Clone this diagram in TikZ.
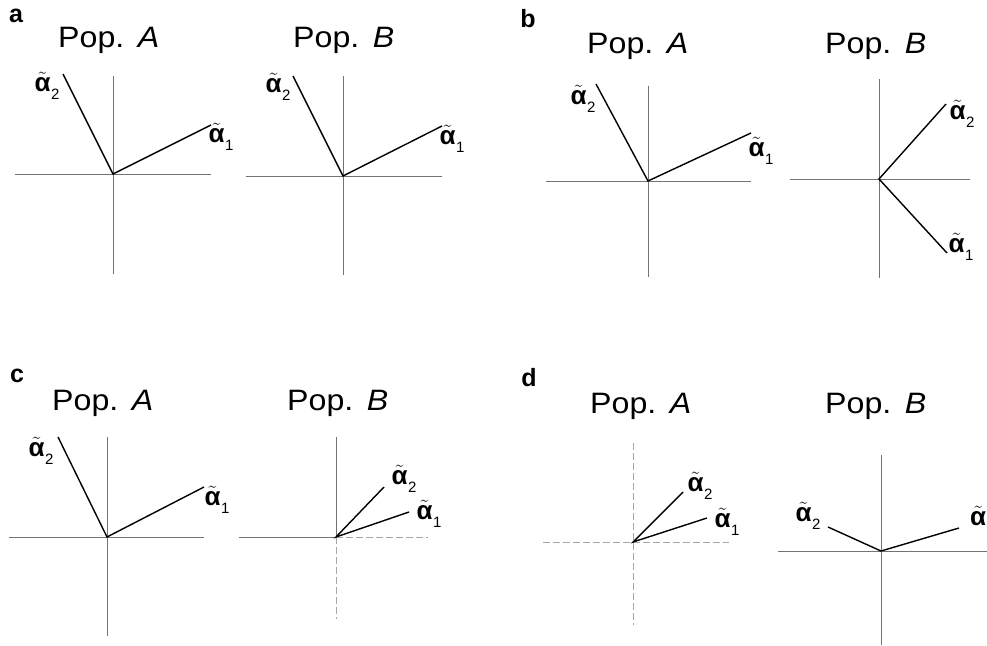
\documentclass[tikz,border=0pt]{standalone}
\usepackage{fontspec}
\setmainfont{Liberation Sans}
\newcommand{\alp}[1]{$\tilde{\mbox{\bfseries α}}$\kern0.5pt\raisebox{-8pt}{\fontsize{15}{15}\selectfont #1}}
\newcommand{\pop}[1]{Pop.\hspace{0.42em}\textit{#1}}
\begin{document}
\begin{tikzpicture}[x=1pt,y=-1pt,
  axis/.style={draw=black!55,line width=0.9pt},
  faintaxis/.style={draw=black!35,line width=0.9pt,dash pattern=on 7pt off 3pt},
  vec/.style={draw=black,line width=1.4pt},
  poplbl/.style={inner sep=0pt,anchor=base west,font=\fontsize{29.5}{29.5}\selectfont,xscale=1.09,transform shape},
  panel/.style={inner sep=0pt,anchor=center,font=\bfseries\fontsize{25}{25}\selectfont},
  alab/.style={inner sep=0pt,anchor=center,font=\fontsize{26}{26}\selectfont}]
\useasboundingbox (0,0) rectangle (987,645);
\clip (0,0) rectangle (987,645);

% ---------------- panel a ----------------
\node[panel] (la) at (16,16) {a};
\node[poplbl] (aAt) at (58,47) {\pop{A}};
\node[poplbl] (aBt) at (293,47) {\pop{B}};
% a, Pop A
\coordinate (aAo) at (113,174);
\coordinate (aAl) at (15,174); \coordinate (aAr) at (211,174);
\coordinate (aAu) at (113,76);  \coordinate (aAd) at (113,274);
\coordinate (aA1) at (211,125); \coordinate (aA2) at (63,74);
\draw[axis] (aAl) -- (aAr); \draw[axis] (aAu) -- (aAd);
\draw[vec] (aA2) -- (aAo) -- (aA1);
\node[alab] (aA2l) at (47,86) {\alp{2}};
\node[alab] (aA1l) at (221,137) {\alp{1}};
% a, Pop B
\coordinate (aBo) at (343,176);
\coordinate (aBl) at (246,176); \coordinate (aBr) at (442,176);
\coordinate (aBu) at (343,76);  \coordinate (aBd) at (343,275);
\coordinate (aB1) at (442,126); \coordinate (aB2) at (293,76);
\draw[axis] (aBl) -- (aBr); \draw[axis] (aBu) -- (aBd);
\draw[vec] (aB2) -- (aBo) -- (aB1);
\node[alab] (aB2l) at (278,87) {\alp{2}};
\node[alab] (aB1l) at (452,139) {\alp{1}};

% ---------------- panel b ----------------
\node[panel] (lb) at (528,19) {b};
\node[poplbl] (bAt) at (587,53) {\pop{A}};
\node[poplbl] (bBt) at (825,53) {\pop{B}};
% b, Pop A
\coordinate (bAo) at (648,181);
\coordinate (bAl) at (546,181); \coordinate (bAr) at (751,181);
\coordinate (bAu) at (648,86);  \coordinate (bAd) at (648,277);
\coordinate (bA1) at (751,133); \coordinate (bA2) at (596,84);
\draw[axis] (bAl) -- (bAr); \draw[axis] (bAu) -- (bAd);
\draw[vec] (bA2) -- (bAo) -- (bA1);
\node[alab] (bA2l) at (583,99) {\alp{2}};
\node[alab] (bA1l) at (761,151) {\alp{1}};
% b, Pop B
\coordinate (bBo) at (879,179);
\coordinate (bBl) at (790,179); \coordinate (bBr) at (970,179);
\coordinate (bBu) at (879,79);  \coordinate (bBd) at (879,278);
\coordinate (bB1) at (947,253); \coordinate (bB2) at (946,104);
\draw[axis] (bBl) -- (bBr); \draw[axis] (bBu) -- (bBd);
\draw[vec] (bB2) -- (bBo) -- (bB1);
\node[alab] (bB2l) at (962,114) {\alp{2}};
\node[alab] (bB1l) at (961,247) {\alp{1}};

% ---------------- panel c ----------------
\node[panel] (lc) at (17,376) {c};
\node[poplbl] (cAt) at (52,410) {\pop{A}};
\node[poplbl] (cBt) at (287,410) {\pop{B}};
% c, Pop A
\coordinate (cAo) at (107,537);
\coordinate (cAl) at (9,537);   \coordinate (cAr) at (204,537);
\coordinate (cAu) at (107,437); \coordinate (cAd) at (107,636);
\coordinate (cA1) at (204,487); \coordinate (cA2) at (58,437);
\draw[axis] (cAl) -- (cAr); \draw[axis] (cAu) -- (cAd);
\draw[vec] (cA2) -- (cAo) -- (cA1);
\node[alab] (cA2l) at (41,451) {\alp{2}};
\node[alab] (cA1l) at (217,500) {\alp{1}};
% c, Pop B
\coordinate (cBo) at (336,537);
\coordinate (cBl) at (239,537); \coordinate (cBr) at (428,537);
\coordinate (cBu) at (336,437); \coordinate (cBd) at (336,619);
\coordinate (cB1) at (409,512); \coordinate (cB2) at (384,487);
\draw[axis] (cBl) -- (cBo); \draw[faintaxis] (cBo) -- (cBr);
\draw[axis] (cBu) -- (cBo); \draw[faintaxis] (cBo) -- (cBd);
\draw[vec] (cB2) -- (cBo) -- (cB1);
\node[alab] (cB2l) at (404,479) {\alp{2}};
\node[alab] (cB1l) at (429,514) {\alp{1}};

% ---------------- panel d ----------------
\node[panel] (ld) at (529,378) {d};
\node[poplbl] (dAt) at (590,413) {\pop{A}};
\node[poplbl] (dBt) at (825,413) {\pop{B}};
% d, Pop A
\coordinate (dAo) at (633,542);
\coordinate (dAl) at (543,542); \coordinate (dAr) at (729,542);
\coordinate (dAu) at (633,443); \coordinate (dAd) at (633,625);
\coordinate (dA1) at (707,518); \coordinate (dA2) at (683,492);
\draw[faintaxis] (dAl) -- (dAr); \draw[faintaxis] (dAu) -- (dAd);
\draw[vec] (dA2) -- (dAo) -- (dA1);
\node[alab] (dA2l) at (700,486) {\alp{2}};
\node[alab] (dA1l) at (727,522) {\alp{1}};
% d, Pop B
\coordinate (dBo) at (881,551);
\coordinate (dBl) at (778,551); \coordinate (dBr) at (987,551);
\coordinate (dBu) at (881,455); \coordinate (dBd) at (881,645);
\coordinate (dB1) at (959,528); \coordinate (dB2) at (828,527);
\draw[axis] (dBl) -- (dBr); \draw[axis] (dBu) -- (dBd);
\draw[vec] (dB2) -- (dBo) -- (dB1);
\node[alab] (dB2l) at (808,516) {\alp{2}};
\node[alab,anchor=west] (dB1l) at (970,520) {\alp{1}};
\end{tikzpicture}
\end{document}
